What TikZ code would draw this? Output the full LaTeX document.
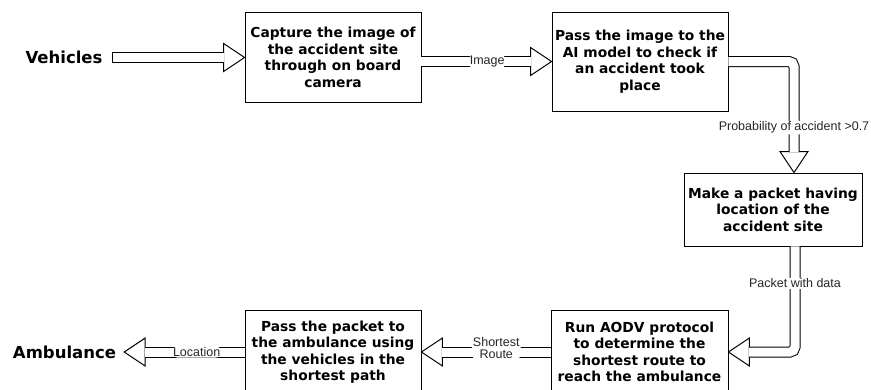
\documentclass[tikz,border=0pt]{standalone}
\usepackage{fontspec}
\setmainfont{DejaVu Sans}
\newfontfamily\labelfont{Liberation Sans}
\usetikzlibrary{calc}

\begin{document}
\begin{tikzpicture}[x=1pt, y=-1pt]
  \tikzset{
    stepbox/.style={draw, line width=0.9pt, align=center, inner sep=0pt,
      minimum width=176pt, font=\bfseries\fontsize{13.8}{16.5}\selectfont},
    endtext/.style={inner sep=0pt, font=\bfseries\fontsize{16.5}{19}\selectfont},
    fatline/.style={draw, line width=1pt, double=white, double distance=9pt, rounded corners=5pt},
    lbl/.style={fill=white, text=black!85, inner sep=1pt, align=center,
      font=\labelfont\fontsize{12.5}{12.5}\selectfont},
    fathead/.pic={\filldraw[fill=white, line width=1pt] (0,0) -- (-21,14) -- (-21,-14) -- cycle;}
  }
  \useasboundingbox (0,0) rectangle (871,389);

  \node[endtext] (veh) at (64,57.5) {Vehicles};
  \node[endtext] (amb) at (64.5,352) {Ambulance};

  \node[stepbox, minimum height=90pt] (capture) at (333,57.5)
    {Capture the image of\\the accident site\\through on board\\camera};
  \node[stepbox, minimum height=99pt] (check) at (640,61.5)
    {Pass the image to the\\AI model to check if\\an accident took\\place};
  \node[stepbox, minimum width=178pt, minimum height=73pt] (packet) at (773,209.5)
    {Make a packet having\\location of the\\accident site};
  \node[stepbox, minimum width=177pt, minimum height=84pt] (aodv) at (639.5,352)
    {Run AODV protocol\\to determine the\\shortest route to\\reach the ambulance};
  \node[stepbox, minimum height=84pt] (forward) at (333,352)
    {Pass the packet to\\the ambulance using\\the vehicles in the\\shortest path};

  \coordinate (vstart) at ($(veh.east)+(10,0)$);
  \coordinate (probtip) at ($(packet.north)+(21,0)$);
  \coordinate (datastart) at ($(packet.south)+(22,0)$);
  \coordinate (loctip) at ($(amb.east)+(8,0)$);

  % vehicles -> capture
  \pic at (capture.west) {fathead};
  \draw[fatline] (vstart) -- ($(capture.west)+(-20.5,0)$);
  \draw[line width=1pt] ($(vstart)+(0,-5.5)$) -- ($(vstart)+(0,5.5)$);

  % capture -> check
  \pic at (check.west) {fathead};
  \draw[fatline] (capture.east |- check.west) -- node[lbl, pos=0.6] {Image} ($(check.west)+(-20.5,0)$);

  % check -> packet
  \pic[rotate=-90] at (probtip) {fathead};
  \draw[fatline] (check.east) -| node[lbl, pos=0.865] {Probability of accident >0.7} ($(probtip)+(0,-20.5)$);

  % packet -> aodv
  \pic[rotate=180] at (aodv.east) {fathead};
  \draw[fatline] (datastart) |- node[lbl, pos=0.175] {Packet with data} ($(aodv.east)+(20.5,0)$);

  % aodv -> forward
  \pic[rotate=180] at (forward.east) {fathead};
  \draw[fatline] (aodv.west) -- node[lbl, pos=0.5, yshift=4pt] {Shortest\\Route} ($(forward.east)+(20.5,0)$);

  % forward -> ambulance
  \pic[rotate=180] at (loctip) {fathead};
  \draw[fatline] (forward.west) -- node[lbl, pos=0.48] {Location} ($(loctip)+(20.5,0)$);
\end{tikzpicture}
\end{document}
